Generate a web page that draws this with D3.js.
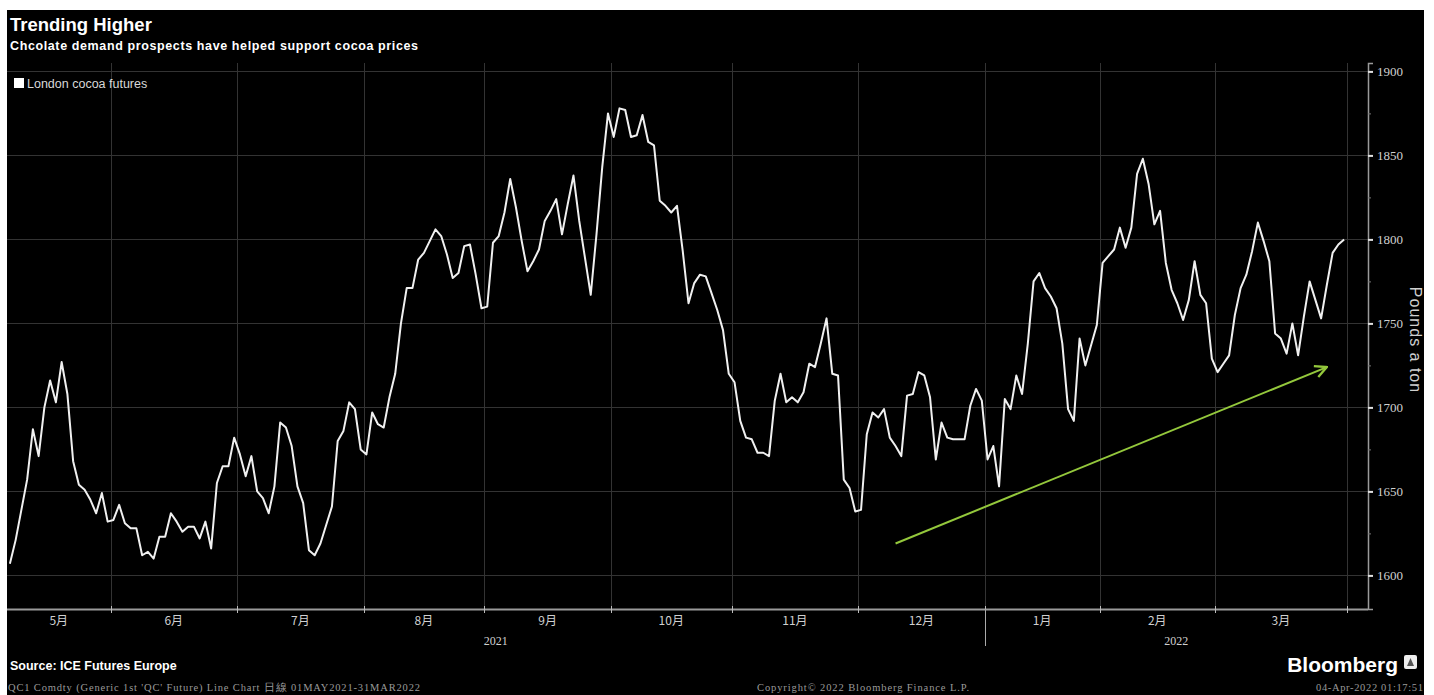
<!DOCTYPE html>
<html>
<head>
<meta charset="utf-8">
<script src="https://cdn.jsdelivr.net/npm/d3@7"></script>
<style>
  html, body { margin: 0; padding: 0; background: #fff; }
  svg { display: block; }
</style>
</head>
<body>
<svg id="chart" width="1434" height="695"></svg>
<script>
// ---------------- DATA ----------------
const monthLabels = ['5月','6月','7月','8月','9月','10月','11月','12月','1月','2月','3月'];
const tradingDaysPerMonth = [18,22,22,21,22,21,22,22,20,20,23];
const yearLabels = ['2021','2022'];
const monthsPerYear = [8,3];
const yTicks = [1600,1650,1700,1750,1800,1850,1900];
const yMinorTicks = [1625,1675,1725,1775,1825,1875];
const seriesName = 'London cocoa futures';
// daily closes, pounds a ton (May 2021 - Mar 2022)
const prices = [
  1607,1621,1639,1657,1687,1671,1700,1716,1703,1727,1708,1668,1654,1651,1645,1637,1649,1632,1633,1642,
  1631,1628,1628,1612,1614,1610,1623,1623,1637,1632,1626,1629,1629,1622,1632,1616,1655,1665,1665,1682,
  1672,1659,1671,1650,1646,1637,1653,1691,1688,1677,1653,1643,1615,1612,1619,1630,1641,
  1680,1686,1703,1699,1675,1672,1697,1690,1688,1706,1720,1750,1771,1771,1788,1792,1799,1806,1802,1791,
  1777,1780,1796,1797,1779,1759,1760,1798,1802,1816,1836,1819,1799,1781,1787,1794,1811,1817,1824,1803,
  1821,1838,1811,1789,1767,1803,1843,1875,1861,1878,1877,1861,1862,1874,1858,1856,1823,1820,1816,1820,1793,
  1762,1774,1779,1778,1768,1758,1746,1720,1715,1692,1682,1681,1673,1673,1671,1704,1720,1703,1706,1703,
  1709,1726,1724,1738,1753,1720,1719,1657,1652,1638,1639,1684,1697,1694,1699,1682,1677,1671,1707,1708,
  1721,1719,1706,1669,1691,1682,1681,1681,1681,1701,1711,1704,1669,1677,
  1653,1705,1699,1719,1708,1738,1775,1780,1771,1766,1759,1738,1699,1692,1741,1725,1737,1749,1786,1790,
  1794,1807,1795,1807,1839,1848,1833,1809,1817,1786,1770,1762,1752,1764,1787,1767,1762,1729,1721,1726,
  1731,1755,1771,1779,1793,1810,1799,1787,1744,1741,1732,1750,1731,1754,1775,1764,1753,1773,1792,1797,1800
];
// trend arrow annotation: [trading-day index, price]
const trendStart = [154, 1619];
const trendEnd = [229, 1724];

// ---------------- CHART ----------------
const svg = d3.select('#chart');
const W = 1434, H = 695;
const plotLeft = 7, plotRight = 1347, axisX = 1368, plotTop = 63, plotBottom = 609;

svg.append('rect').attr('x',0).attr('y',0).attr('width',W).attr('height',H).attr('fill','#fff');
svg.append('rect').attr('x',7).attr('y',10).attr('width',1417).attr('height',H-10).attr('fill','#000');

const totalDays = d3.sum(tradingDaysPerMonth);
const x = d3.scaleLinear().domain([0,totalDays]).range([plotLeft, plotRight]);
const y = d3.scaleLinear().domain([1580,1905]).range([plotBottom, plotTop]);

const bounds = [0, ...d3.cumsum(tradingDaysPerMonth)];
const yearBounds = [0, ...d3.cumsum(monthsPerYear)];
const px = d => Math.round(x(d)) + 0.5;

// gridlines
const grid = svg.append('g').attr('stroke','#333').attr('stroke-width',1);
grid.selectAll('line.h').data(yTicks).join('line').attr('class','h')
  .attr('x1',plotLeft).attr('x2',axisX)
  .attr('y1',d=>Math.round(y(d))+0.5).attr('y2',d=>Math.round(y(d))+0.5);
grid.selectAll('line.v').data(bounds.slice(1)).join('line').attr('class','v')
  .attr('x1',px).attr('x2',px)
  .attr('y1',plotTop).attr('y2',plotBottom);

// right axis
const yAxis = d3.axisRight(y).tickValues(yTicks).tickSize(5).tickPadding(4).tickFormat(d3.format('d'));
const gy = svg.append('g').attr('transform',`translate(${axisX},0)`).call(yAxis);
gy.select('.domain').attr('stroke','#9a9a9a').attr('stroke-width',1.5);
gy.selectAll('.tick line').attr('stroke','#e0e0e0').attr('stroke-width',2);
gy.selectAll('.tick text').attr('fill','#d0d0d0').attr('font-family','"Liberation Serif", serif').attr('font-size',13);
const yMinor = d3.axisRight(y).tickValues(yMinorTicks).tickSize(3).tickFormat('');
const gym = svg.append('g').attr('transform',`translate(${axisX},0)`).call(yMinor);
gym.select('.domain').remove();
gym.selectAll('.tick line').attr('stroke','#777');

svg.append('text')
  .attr('transform',`translate(1410,340) rotate(90)`)
  .attr('text-anchor','middle')
  .attr('fill','#d0d0d0')
  .attr('font-family','"Liberation Sans", Arial, sans-serif')
  .attr('font-size',16)
  .attr('letter-spacing',1)
  .text('Pounds a ton');

// bottom axis
svg.append('line').attr('x1',plotLeft).attr('x2',axisX).attr('y1',plotBottom+0.5).attr('y2',plotBottom+0.5)
  .attr('stroke','#9a9a9a').attr('stroke-width',2);
svg.append('g').selectAll('line').data(bounds.slice(1)).join('line')
  .attr('x1',px).attr('x2',px)
  .attr('y1',plotBottom-3).attr('y2',plotBottom+4)
  .attr('stroke','#bbb').attr('stroke-width',1);
svg.append('line')
  .attr('x1',px(bounds[yearBounds[1]])).attr('x2',px(bounds[yearBounds[1]]))
  .attr('y1',plotBottom).attr('y2',plotBottom+37)
  .attr('stroke','#aaa').attr('stroke-width',1);

svg.append('g').selectAll('text').data(monthLabels).join('text')
  .attr('x',(d,i)=>x((bounds[i]+bounds[i+1])/2))
  .attr('y',plotBottom+16)
  .attr('text-anchor','middle')
  .attr('fill','#d0d0d0')
  .attr('font-family','"Noto Sans CJK SC", sans-serif')
  .attr('font-size',12)
  .text(d=>d);
svg.append('g').selectAll('text').data(yearLabels).join('text')
  .attr('x',(d,i)=>{
    const a = x(bounds[yearBounds[i]]);
    const b = i === yearLabels.length-1 ? axisX : x(bounds[yearBounds[i+1]]);
    return (a+b)/2;
  })
  .attr('y',plotBottom+36)
  .attr('text-anchor','middle')
  .attr('fill','#d0d0d0')
  .attr('font-family','"Liberation Serif", serif')
  .attr('font-size',12)
  .text(d=>d);

// price line
const line = d3.line().x((d,i)=>x(i+0.5)).y(d=>y(d));
svg.append('path').datum(prices)
  .attr('d',line)
  .attr('fill','none')
  .attr('stroke','#f0f0f0')
  .attr('stroke-width',2)
  .attr('stroke-linejoin','round');

// trend arrow
const defs = svg.append('defs');
defs.append('marker').attr('id','arrowHead')
  .attr('viewBox','0 0 12 12').attr('refX',11).attr('refY',6)
  .attr('markerWidth',14).attr('markerHeight',14)
  .attr('markerUnits','userSpaceOnUse')
  .attr('orient','auto')
  .append('path').attr('d','M1,1 L11,6 L1,11')
  .attr('fill','none').attr('stroke','#94c83c').attr('stroke-width',2);
svg.append('line')
  .attr('x1',x(trendStart[0]+0.5)).attr('y1',y(trendStart[1]))
  .attr('x2',x(trendEnd[0]+0.5)).attr('y2',y(trendEnd[1]))
  .attr('stroke','#94c83c').attr('stroke-width',2)
  .attr('marker-end','url(#arrowHead)');

// legend
svg.append('rect').attr('x',14).attr('y',78).attr('width',10).attr('height',10).attr('fill','#fff');
svg.append('text').attr('x',27).attr('y',88)
  .attr('fill','#d8d8d8')
  .attr('font-family','"Liberation Sans", Arial, sans-serif')
  .attr('font-size',12.5)
  .text(seriesName);

// titles
svg.append('text').attr('x',10).attr('y',31)
  .attr('fill','#fff').attr('font-weight','bold')
  .attr('font-family','"Liberation Sans", Arial, sans-serif')
  .attr('font-size',18.5)
  .text('Trending Higher');
svg.append('text').attr('x',10).attr('y',50)
  .attr('fill','#fff').attr('font-weight','bold')
  .attr('font-family','"Liberation Sans", Arial, sans-serif')
  .attr('font-size',12.5)
  .attr('textLength',408).attr('lengthAdjust','spacing')
  .text('Chcolate demand prospects have helped support cocoa prices');

// footer
svg.append('text').attr('x',10).attr('y',670)
  .attr('fill','#fff').attr('font-weight','bold')
  .attr('font-family','"Liberation Sans", Arial, sans-serif')
  .attr('font-size',12.5)
  .text('Source: ICE Futures Europe');
const footerFont = '"Liberation Serif", serif';
svg.append('text').attr('x',8).attr('y',691)
  .attr('fill','#9a9a9a').attr('font-family',footerFont).attr('font-size',10.5)
  .attr('textLength',412).attr('lengthAdjust','spacing')
  .text("QC1 Comdty (Generic 1st 'QC' Future) Line Chart  日線 01MAY2021-31MAR2022");
svg.append('text').attr('x',757).attr('y',691)
  .attr('fill','#9a9a9a').attr('font-family',footerFont).attr('font-size',10.5)
  .attr('textLength',212).attr('lengthAdjust','spacing')
  .text('Copyright© 2022 Bloomberg Finance L.P.');
svg.append('text').attr('x',1316).attr('y',691)
  .attr('fill','#9a9a9a').attr('font-family',footerFont).attr('font-size',10.5)
  .attr('textLength',107).attr('lengthAdjust','spacing')
  .text('04-Apr-2022 01:17:51');

// Bloomberg logo
svg.append('text').attr('x',1398).attr('y',672).attr('text-anchor','end')
  .attr('fill','#fff').attr('font-weight','bold')
  .attr('font-family','"Liberation Sans", Arial, sans-serif')
  .attr('font-size',21)
  .text('Bloomberg');
svg.append('rect').attr('x',1404).attr('y',655).attr('width',13).attr('height',14).attr('rx',2).attr('fill','#eee');
svg.append('path').attr('d','M1407,666 L1410.5,658 L1414,666 Z').attr('fill','#555');
</script>
</body>
</html>
